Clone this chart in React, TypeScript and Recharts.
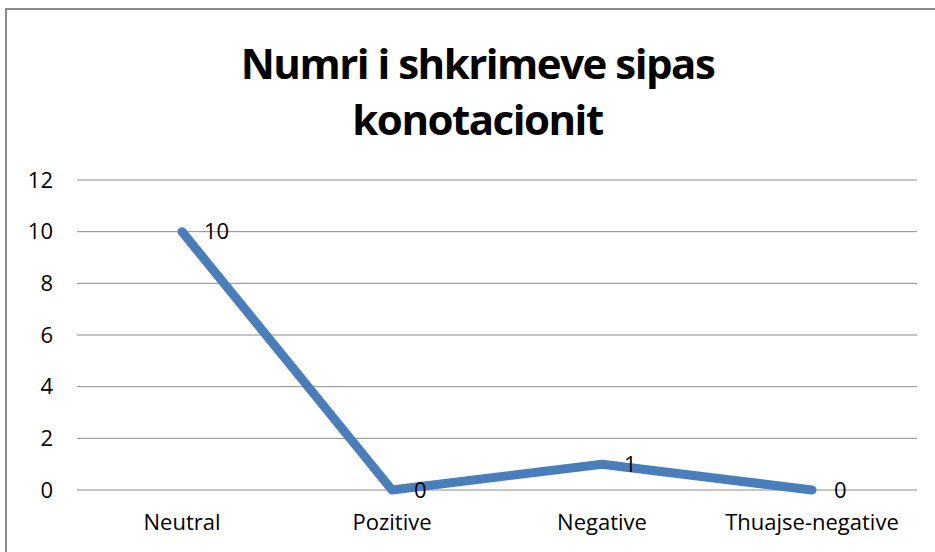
import { LineChart, Line, XAxis, YAxis, CartesianGrid, LabelList } from 'recharts'

const categories = ['Neutral', 'Pozitive', 'Negative', 'Thuajse-negative']
const counts = [10, 0, 1, 0]
const yTicks = [0, 2, 4, 6, 8, 10, 12]

const data = categories.map((name, i) => ({ name, value: counts[i] }))

const font = '"Open Sans", "Noto Sans", sans-serif'

export default function App() {
  return (
    <div
      style={{
        position: 'fixed',
        top: 0,
        left: 0,
        width: 935,
        height: 552,
        background: '#fff',
        fontFamily: font,
        overflow: 'hidden',
      }}
    >
      <div
        style={{
          position: 'absolute',
          left: 5,
          top: 8,
          width: 940,
          height: 560,
          borderLeft: '2px solid #8a8a8a',
          borderTop: '2px solid #8a8a8a',
        }}
      />
      <div
        style={{
          position: 'absolute',
          top: 35,
          left: 0,
          width: 955,
          textAlign: 'center',
          fontWeight: 700,
          fontSize: 42,
          lineHeight: '56px',
          color: '#000',
          letterSpacing: -1.5,
        }}
      >
        Numri i shkrimeve sipas
        <br />
        konotacionit
      </div>
      <LineChart
        width={935}
        height={552}
        data={data}
        margin={{ top: 180, right: 18, bottom: 32, left: 0 }}
        style={{ position: 'absolute', top: 0, left: 0 }}
      >
        <CartesianGrid vertical={false} stroke="#8a8a8a" strokeWidth={1} />
        <XAxis
          dataKey="name"
          height={30}
          padding={{ left: 105, right: 105 }}
          axisLine={false}
          tickLine={false}
          tickSize={0}
          tickMargin={24}
          interval={0}
          tick={{ fill: '#000', fontSize: 22, fontFamily: font }}
        />
        <YAxis
          width={77}
          domain={[0, 12]}
          ticks={yTicks}
          axisLine={false}
          tickLine={false}
          tickSize={0}
          tickMargin={24}
          tick={{ fill: '#000', fontSize: 22, fontFamily: font }}
        />
        <Line
          type="linear"
          dataKey="value"
          stroke="#4a7ebb"
          strokeWidth={9}
          strokeLinecap="round"
          strokeLinejoin="round"
          dot={false}
          activeDot={false}
          isAnimationActive={false}
        >
          <LabelList
            dataKey="value"
            position="right"
            offset={22}
            fill="#000"
            fontSize={22}
            fontFamily={font}
          />
        </Line>
      </LineChart>
    </div>
  )
}
